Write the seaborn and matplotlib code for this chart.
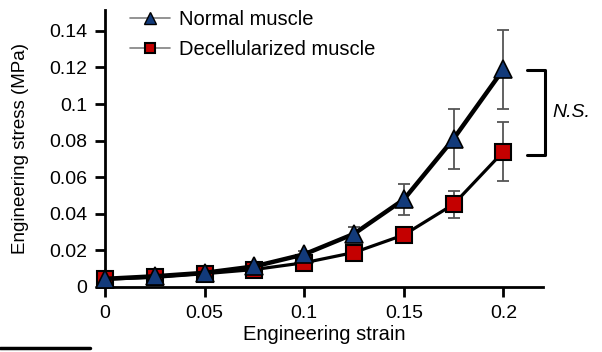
import matplotlib
matplotlib.use("Agg")
import matplotlib.pyplot as plt
from matplotlib.lines import Line2D
import pandas as pd
import seaborn as sns

strain = [0, 0.025, 0.05, 0.075, 0.1, 0.125, 0.15, 0.175, 0.2]
normal_mean = [0.0044, 0.0058, 0.0077, 0.0112, 0.0178, 0.0290, 0.0478, 0.0810, 0.1190]
normal_err = [0.0008, 0.0008, 0.001, 0.0015, 0.002, 0.004, 0.0085, 0.0165, 0.0215]
decell_mean = [0.0042, 0.0052, 0.0072, 0.0095, 0.0132, 0.0188, 0.0284, 0.0452, 0.0740]
decell_err = [0.0008, 0.0008, 0.001, 0.0012, 0.0015, 0.002, 0.003, 0.0075, 0.0160]
labels = ["Normal muscle", "Decellularized muscle"]

sns.set_style("ticks")
plt.rcParams["font.family"] = ["Liberation Sans", "DejaVu Sans"]
plt.rcParams["text.color"] = "black"
plt.rcParams["axes.labelcolor"] = "black"
plt.rcParams["xtick.color"] = "black"
plt.rcParams["ytick.color"] = "black"

df = pd.DataFrame({
    "strain": strain * 2,
    "stress": normal_mean + decell_mean,
    "group": [labels[0]] * len(strain) + [labels[1]] * len(strain),
})

fig = plt.figure(figsize=(6.02, 3.52), dpi=100)
ax = fig.add_axes([0.1744, 0.185, 0.728, 0.787])

# error bars first so markers sit on top
ax.errorbar(strain, decell_mean, yerr=decell_err, fmt="none", ecolor="#555555",
            elinewidth=1.3, capsize=4, capthick=1.3, zorder=2, clip_on=False)
ax.errorbar(strain, normal_mean, yerr=normal_err, fmt="none", ecolor="#555555",
            elinewidth=1.3, capsize=4, capthick=1.3, zorder=2, clip_on=False)

sub = df[df.group == labels[1]]
sns.lineplot(data=sub, x="strain", y="stress", ax=ax, color="black", lw=2.3,
             marker="s", markersize=12, markerfacecolor="#c40000",
             markeredgecolor="black", markeredgewidth=1.5, zorder=3, clip_on=False)
sub = df[df.group == labels[0]]
sns.lineplot(data=sub, x="strain", y="stress", ax=ax, color="black", lw=3.2,
             marker="^", markersize=13, markerfacecolor="#123a7a",
             markeredgecolor="black", markeredgewidth=1.2, zorder=4, clip_on=False)

ax.set_xlim(0, 0.22)
ax.set_ylim(0, 0.1515)
ax.set_xticks([0, 0.05, 0.1, 0.15, 0.2])
ax.set_xticklabels(["0", "0.05", "0.1", "0.15", "0.2"])
ax.set_yticks([0, 0.02, 0.04, 0.06, 0.08, 0.1, 0.12, 0.14])
ax.set_yticklabels(["0", "0.02", "0.04", "0.06", "0.08", "0.1", "0.12", "0.14"])
ax.tick_params(axis="both", labelsize=14, length=7, width=2, color="black", pad=6)
for s in ["left", "bottom"]:
    ax.spines[s].set_linewidth(2)
    ax.spines[s].set_color("black")
sns.despine(ax=ax)
ax.set_xlabel("Engineering strain", fontsize=14.5, labelpad=2)
ax.set_ylabel("Engineering stress (MPa)", fontsize=13.5, labelpad=14)

handles = [
    Line2D([], [], color="#808080", lw=1.2, marker="^", markersize=9,
           markerfacecolor="#123a7a", markeredgecolor="black"),
    Line2D([], [], color="#808080", lw=1.2, marker="s", markersize=7,
           markerfacecolor="#c40000", markeredgecolor="black", markeredgewidth=1.5),
]
ax.legend(handles, labels, loc="upper left", bbox_to_anchor=(0.015, 1.065),
          frameon=False, fontsize=14.5, handlelength=2.0, handletextpad=0.45,
          labelspacing=0.55)

# significance bracket
ax.plot([0.212, 0.2208, 0.2208, 0.212], [0.1186, 0.1186, 0.0722, 0.0722],
        color="black", lw=2.2, clip_on=False)
ax.text(0.2245, 0.0955, "N.S.", fontsize=14, style="italic", va="center", ha="left")

# stray rule under the figure
fig.add_artist(Line2D([0, 0.15], [0.012, 0.012], color="black", lw=2.5,
                      transform=fig.transFigure))

fig.savefig("out.png", dpi=100)
